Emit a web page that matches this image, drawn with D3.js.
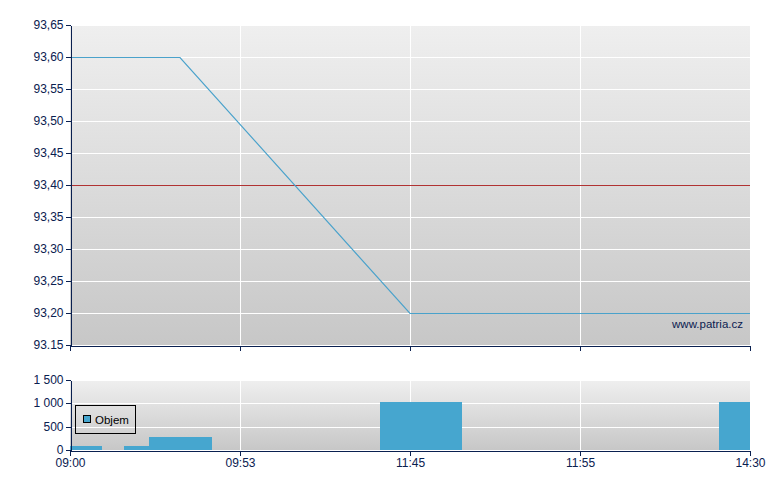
<!DOCTYPE html>
<html><head><meta charset="utf-8">
<script src="https://cdn.jsdelivr.net/npm/d3@7"></script>
<style>
body{margin:0;background:#fff;}
svg{display:block;font-family:"Liberation Sans",Arial,sans-serif;}
</style></head>
<body>
<svg id="c" width="780" height="490"></svg>
<script>
// ---- data ----
const xTickPos = [0, 1, 2, 3, 4];
const xTickLabels = ["09:00", "09:53", "11:45", "11:55", "14:30"];
const priceX = [0, 0.647, 2, 4];
const priceY = [93.60, 93.60, 93.20, 93.20];
const refPrice = 93.40;
const priceTicks = [93.15, 93.20, 93.25, 93.30, 93.35, 93.40, 93.45, 93.50, 93.55, 93.60, 93.65];
const priceTickLabels = ["93.15", "93,20", "93,25", "93,30", "93,35", "93,40", "93,45", "93,50", "93,55", "93,60", "93,65"];
const volStart = [0, 0.318, 0.465, 1.824, 3.818];
const volEnd = [0.188, 0.465, 0.835, 2.306, 4];
const volValues = [90, 90, 280, 1030, 1030];
const volTicks = [0, 500, 1000, 1500];
const volTickLabels = ["0", "500", "1 000", "1 500"];
const seriesName = "Objem";
const watermark = "www.patria.cz";

// ---- layout ----
const svg = d3.select("#c");
const L = 70, R = 750;
const mainTop = 25, mainBot = 345;
const volTop = 380, volBot = 450;
const navy = "#0a2050";
const lineCol = "#4aa2cb";
const barCol = "#46a6cf";

const x = d3.scaleLinear().domain([0, 4]).range([L, R]);
const y = d3.scaleLinear().domain([93.15, 93.65]).range([mainBot, mainTop]);
const yv = d3.scaleLinear().domain([0, 1500]).range([volBot, volTop]);

const defs = svg.append("defs");
const g1 = defs.append("linearGradient").attr("id", "bg").attr("x1", 0).attr("y1", 0).attr("x2", 0).attr("y2", 1);
g1.append("stop").attr("offset", "0%").attr("stop-color", "#efefef");
g1.append("stop").attr("offset", "100%").attr("stop-color", "#c7c7c7");

// panels
svg.append("rect").attr("x", L).attr("y", mainTop).attr("width", R - L).attr("height", mainBot - mainTop).attr("fill", "url(#bg)");
svg.append("rect").attr("x", L).attr("y", volTop).attr("width", R - L).attr("height", volBot - volTop).attr("fill", "url(#bg)");

const crisp = v => Math.round(v) + 0.5;

// grid main
const gm = svg.append("g").attr("stroke", "#ffffff").attr("stroke-width", 1).attr("shape-rendering", "crispEdges");
priceTicks.slice(1).forEach(t => gm.append("line").attr("x1", L).attr("x2", R).attr("y1", crisp(y(t))).attr("y2", crisp(y(t))));
xTickPos.slice(1, -1).forEach(t => gm.append("line").attr("x1", crisp(x(t))).attr("x2", crisp(x(t))).attr("y1", mainTop).attr("y2", mainBot));
// grid vol
const gv = svg.append("g").attr("stroke", "#ffffff").attr("stroke-width", 1).attr("shape-rendering", "crispEdges");
volTicks.slice(1).forEach(t => gv.append("line").attr("x1", L).attr("x2", R).attr("y1", crisp(yv(t))).attr("y2", crisp(yv(t))));
xTickPos.slice(1, -1).forEach(t => gv.append("line").attr("x1", crisp(x(t))).attr("x2", crisp(x(t))).attr("y1", volTop).attr("y2", volBot));

// reference line
svg.append("line").attr("x1", L).attr("x2", R).attr("y1", crisp(y(refPrice))).attr("y2", crisp(y(refPrice)))
  .attr("stroke", "#b03232").attr("stroke-width", 1).attr("shape-rendering", "crispEdges");

// price line
const pts = priceX.map((d, i) => [d, priceY[i]]);
svg.append("path").datum(pts)
  .attr("d", d3.line().x(d => x(d[0])).y(d => crisp(y(d[1]))))
  .attr("fill", "none").attr("stroke", lineCol).attr("stroke-width", 1.2);

// watermark
svg.append("text").attr("x", 743).attr("y", 328).attr("text-anchor", "end")
  .attr("font-size", 11.5).attr("fill", navy).text(watermark);

// volume bars
svg.append("g").selectAll("rect").data(volValues).join("rect")
  .attr("x", (d, i) => Math.round(x(volStart[i])))
  .attr("width", (d, i) => Math.round(x(volEnd[i])) - Math.round(x(volStart[i])))
  .attr("y", d => Math.round(yv(d)))
  .attr("height", d => volBot - Math.round(yv(d)))
  .attr("fill", barCol);

// axes
function yAxis(scale, ticks, labels, top, bot) {
  const g = svg.append("g").attr("transform", `translate(${L + 0.5},0)`);
  g.call(d3.axisLeft(scale).tickValues(ticks).tickSize(5).tickSizeOuter(0)
    .tickFormat((d, i) => labels[i]));
  g.select(".domain").attr("stroke", navy).attr("shape-rendering", "crispEdges");
  g.selectAll(".tick line").attr("stroke", navy).attr("shape-rendering", "crispEdges");
  g.selectAll(".tick").attr("transform", d => `translate(0,${crisp(scale(d))})`);
  g.selectAll("text").attr("fill", navy).attr("font-size", 12).attr("font-family", "Liberation Sans, Arial, sans-serif").attr("x", -7);
}
yAxis(y, priceTicks, priceTickLabels);
yAxis(yv, volTicks, volTickLabels);

function xAxis(yy, showLabels) {
  const g = svg.append("g").attr("transform", `translate(0,${yy + 0.5})`);
  g.call(d3.axisBottom(x).tickValues(xTickPos).tickSize(5).tickSizeOuter(0)
    .tickFormat((d, i) => showLabels ? xTickLabels[i] : ""));
  g.select(".domain").attr("stroke", navy).attr("shape-rendering", "crispEdges");
  g.selectAll(".tick line").attr("stroke", navy).attr("shape-rendering", "crispEdges");
  g.selectAll(".tick").attr("transform", d => `translate(${crisp(x(d))},0)`);
  g.selectAll("text").attr("fill", navy).attr("font-size", 12).attr("font-family", "Liberation Sans, Arial, sans-serif").attr("y", 8);
}
xAxis(mainBot, false);
xAxis(volBot, true);

// legend
const lg = svg.append("g");
lg.append("rect").attr("x", 75.5).attr("y", 405.5).attr("width", 60).attr("height", 28)
  .attr("fill", "none").attr("stroke", "#000").attr("stroke-width", 1);
lg.append("rect").attr("x", 83.5).attr("y", 415.5).attr("width", 7).attr("height", 7)
  .attr("fill", barCol).attr("stroke", "#000").attr("stroke-width", 1);
lg.append("text").attr("x", 95).attr("y", 424).attr("font-size", 11.5).attr("fill", "#000").text(seriesName);
</script>
</body></html>
